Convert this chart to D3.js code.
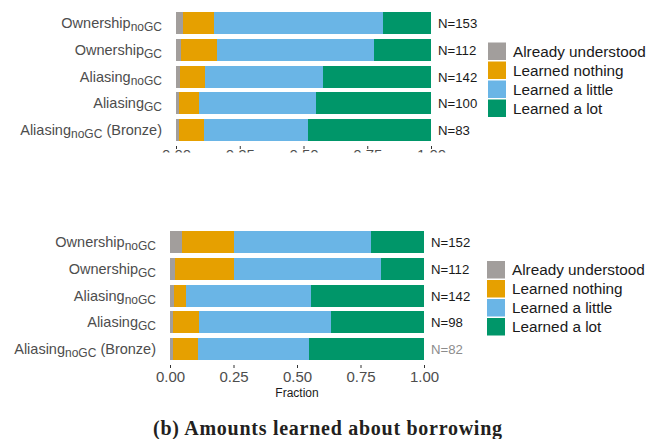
<!DOCTYPE html>
<html>
<head>
<meta charset="utf-8">
<script src="https://cdn.jsdelivr.net/npm/d3@7"></script>
<style>
  html, body { margin: 0; padding: 0; background: #fff; }
  svg { display: block; font-family: "Liberation Sans", Arial, sans-serif; }
</style>
</head>
<body>
<svg id="chart" width="648" height="439"></svg>
<script>
// Row labels: main word, subscript, trailing text
const labelMain = ["Ownership", "Ownership", "Aliasing", "Aliasing", "Aliasing"];
const labelSub = ["noGC", "GC", "noGC", "GC", "noGC"];
const labelSuffix = ["", "", "", "", " (Bronze)"];

// Response levels, stacked left to right
const levels = ["Already understood", "Learned nothing", "Learned a little", "Learned a lot"];
const levelColors = ["#a29e9c", "#e6a000", "#6ab5e6", "#009669"];

// Response counts per row (upper panel), in level order
const countsUpper = [
  [4, 19, 101, 29],
  [2, 16, 69, 25],
  [2, 14, 66, 60],
  [1, 8, 46, 45],
  [1, 8, 34, 40]
];

// Response counts per row (lower panel), in level order
const countsLower = [
  [7, 31, 82, 32],
  [2, 26, 65, 19],
  [2, 7, 70, 63],
  [1, 10, 51, 36],
  [1, 8, 36, 37]
];

const tickValues = [0, 0.25, 0.5, 0.75, 1];
const xTitle = "Fraction";
const caption = "(b) Amounts learned about borrowing";

const svg = d3.select("#chart");
const rowIds = d3.range(labelMain.length);

function drawPanel(g, counts, opts) {
  const x = d3.scaleLinear().domain([0, 1]).range([opts.x0, opts.x1]);
  const y = d3.scaleBand().domain(rowIds).range([opts.y0, opts.y1]).padding(0.18);

  // stacked fractions
  const rows = counts.map((c, i) => {
    const n = d3.sum(c);
    const obj = { row: i, n: n };
    levels.forEach((lv, j) => { obj[lv] = c[j] / n; });
    return obj;
  });
  const series = d3.stack().keys(levels)(rows);

  g.selectAll("g.layer")
    .data(series)
    .join("g")
    .attr("class", "layer")
    .attr("fill", (d, i) => levelColors[i])
    .selectAll("rect")
    .data(d => d)
    .join("rect")
    .attr("x", d => x(d[0]))
    .attr("width", d => x(d[1]) - x(d[0]))
    .attr("y", d => y(d.data.row))
    .attr("height", y.bandwidth())
    .attr("shape-rendering", "crispEdges");

  // row labels with subscripts
  const lab = g.selectAll("text.rowlab")
    .data(rowIds)
    .join("text")
    .attr("class", "rowlab")
    .attr("x", opts.x0 - 14)
    .attr("y", i => y(i) + y.bandwidth() / 2 + 5)
    .attr("text-anchor", "end")
    .attr("fill", "#4d4d4d")
    .style("font-size", "14.5px");
  lab.append("tspan").text(i => labelMain[i]);
  lab.append("tspan").attr("dy", 3).style("font-size", "12px").text(i => labelSub[i]);
  lab.filter(i => labelSuffix[i] !== "")
    .append("tspan").attr("dy", -3).text(i => labelSuffix[i].replace(/^ /, "\u00a0"));

  // N labels
  g.selectAll("text.nlab")
    .data(rows)
    .join("text")
    .attr("class", "nlab")
    .attr("x", opts.x1 + 7)
    .attr("y", d => y(d.row) + y.bandwidth() / 2 + 5)
    .attr("fill", (d, i) => (opts.dimLast && i === rows.length - 1) ? "#8c8c8c" : "#1a1a1a")
    .style("font-size", "13.2px")
    .text(d => "N=" + d.n);

  // x axis
  const axis = g.append("g")
    .attr("transform", `translate(0,${opts.y1})`)
    .call(d3.axisBottom(x).tickValues(tickValues).tickFormat(d3.format(".2f")).tickSize(3).tickPadding(opts.tickPad));
  axis.select(".domain").remove();
  axis.selectAll(".tick line").attr("stroke", "#333");
  axis.selectAll(".tick text")
    .attr("fill", "#4d4d4d")
    .style("font-size", "15px")
    .style("font-family", "'Liberation Sans', Arial, sans-serif");

  // legend
  const lg = g.append("g").attr("transform", `translate(${opts.legX},${opts.legY})`);
  const item = lg.selectAll("g")
    .data(levels)
    .join("g")
    .attr("transform", (d, i) => `translate(0,${i * 19})`);
  item.append("rect")
    .attr("x", 0).attr("y", 1)
    .attr("width", 18).attr("height", 17.5)
    .attr("fill", (d, i) => levelColors[i]);
  item.append("text")
    .attr("x", 25).attr("y", 15)
    .attr("fill", "#1a1a1a")
    .style("font-size", "15.3px")
    .text(d => d);

  return { x, y };
}

// upper panel, clipped just below its axis ticks
svg.append("defs").append("clipPath").attr("id", "upperclip")
  .append("rect").attr("x", 0).attr("y", 0).attr("width", 648).attr("height", 152.5);
const upperPanel = svg.append("g").attr("clip-path", "url(#upperclip)");
drawPanel(upperPanel, countsUpper, { x0: 176, x1: 431, y0: 7.2, y1: 146, legX: 488, legY: 41.5, dimLast: false, tickPad: 0 });

// lower panel
const lowerPanel = svg.append("g");
const sc = drawPanel(lowerPanel, countsLower, { x0: 170, x1: 424, y0: 226.2, y1: 365, legX: 487, legY: 260, dimLast: true, tickPad: 3 });

lowerPanel.append("text")
  .attr("x", (sc.x(0) + sc.x(1)) / 2)
  .attr("y", 397)
  .attr("text-anchor", "middle")
  .attr("fill", "#1a1a1a")
  .style("font-size", "12px")
  .text(xTitle);

// caption
svg.append("text")
  .attr("x", 327.5)
  .attr("y", 435)
  .attr("text-anchor", "middle")
  .attr("fill", "#231f20")
  .style("font-family", "'Liberation Serif', 'DejaVu Serif', serif")
  .style("font-weight", "bold")
  .style("font-size", "20px")
  .attr("textLength", 349)
  .attr("lengthAdjust", "spacing")
  .text(caption);
</script>
</body>
</html>
